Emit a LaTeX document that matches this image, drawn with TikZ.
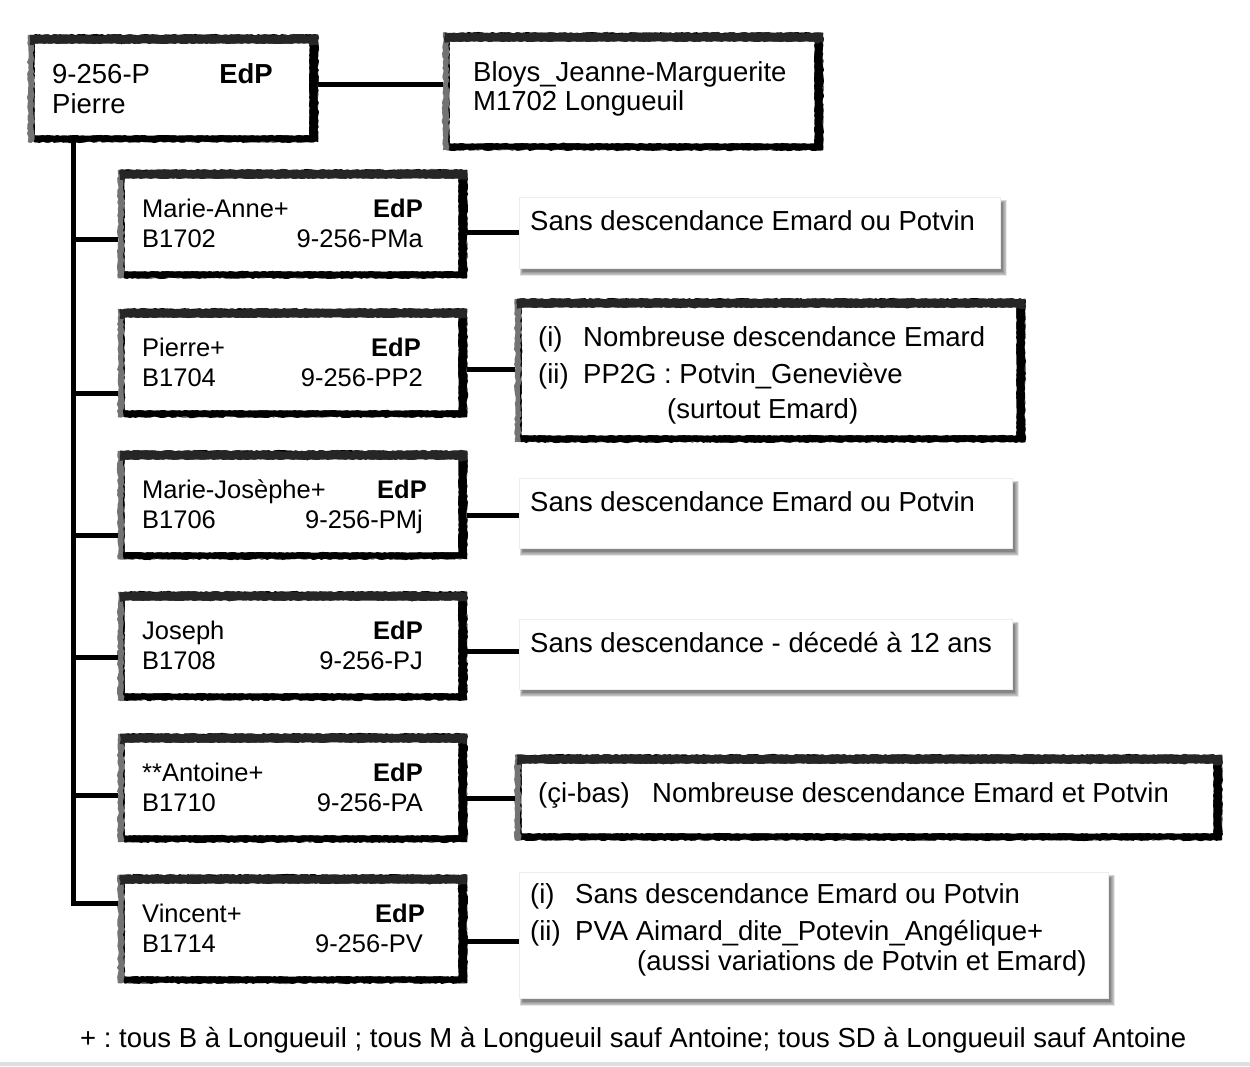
\documentclass[tikz,border=0pt]{standalone}
\usepackage{fontspec}
\setmainfont{Liberation Sans}
\usetikzlibrary{calc,fit,decorations.pathmorphing}
\definecolor{bandgray}{HTML}{DCE0E4}
\frenchspacing
\tikzset{
  x=1pt, y=-1pt,
  txt/.style={inner sep=0pt, anchor=base west, font=\fontsize{27.5}{33}\selectfont},
  txtr/.style={txt, anchor=base east},
  ctxt/.style={inner sep=0pt, anchor=base west, font=\fontsize{25.5}{30}\selectfont},
  ctxtr/.style={ctxt, anchor=base east},
  conn/.style={line width=5pt, black, line join=miter},
  rough/.style={decorate, decoration={random steps, segment length=3pt, amplitude=0.9pt}},
  fine/.style={decorate, decoration={random steps, segment length=2.5pt, amplitude=0.5pt}},
}
% sketch framed box: name, x1, y1, x2, y2
\newcommand\SkBox[5]{%
  \coordinate (#1-a) at (#2,#3);
  \coordinate (#1-z) at (#4,#5);
  \node[fit=(#1-a)(#1-z), inner sep=0pt, draw=none] (#1) {};
  \fill[black!55, rough] (#1.north west) rectangle (#1.south east);
  \fill[black, rough] ($(#1.north west)+(6,0)$) rectangle (#1.south east);
  \fill[black!85, rough] ($(#1.north west)+(2,0)$) rectangle ($(#1.north east)+(0,10)$);
  \fill[white, fine] ($(#1.north west)+(7,9)$) rectangle ($(#1.south east)+(-9,-7)$);
}
% shadowed plain box: name, x1, y1, x2, y2
\newcommand\ShBox[5]{%
  \coordinate (#1-a) at (#2,#3);
  \coordinate (#1-z) at (#4,#5);
  \node[fit=(#1-a)(#1-z), inner sep=0pt, draw=none] (#1) {};
  \foreach \k in {0,...,6}{%
    \fill[black, opacity=0.085] ($(#1.north west)+(1+0.5*\k,3+0.5*\k)$) rectangle ($(#1.south east)+(7-0.75*\k,8-0.75*\k)$);
  }
  \fill[white] (#1.north west) rectangle (#1.south east);
  \draw[black!7, line width=0.6pt] (#1.north west) rectangle (#1.south east);
}
% child box: name, top, person, birth, code, EdP right edge
\newcommand\Child[6]{%
  \SkBox{#1}{118}{#2}{467}{#2+108}
  \node[ctxt] (#1-n) at (142,#2+47) {#3};
  \node[ctxtr] (#1-e) at (#6,#2+47) {\bfseries EdP};
  \node[ctxt] (#1-bt) at (142,#2+77) {#4};
  \node[ctxtr] (#1-c) at (423,#2+77) {#5};
}
\begin{document}
\begin{tikzpicture}
\useasboundingbox (0,0) rectangle (1250,1066);
\fill[white] (0,0) rectangle (1250,1066);
\fill[bandgray] (0,1062) rectangle (1250,1066);

% top row
\SkBox{main}{28}{35}{318}{142}
\node[txt] (main-id) at (52,83) {9-256-P};
\node[txtr] (main-e) at (273,83) {\bfseries EdP};
\node[txt] (main-n) at (52,113) {Pierre};

\SkBox{bloys}{443}{33}{823}{150}
\node[txt] (bloys-n) at (473,81) {Bloys\_Jeanne-Marguerite};
\node[txt] (bloys-m) at (473,110) {M1702 Longueuil};

% children
\Child{ma}{170}{Marie-Anne+}{B1702}{9-256-PMa}{423}
\Child{pp}{309}{Pierre+}{B1704}{9-256-PP2}{421}
\Child{mj}{451}{Marie-Josèphe+}{B1706}{9-256-PMj}{427}
\Child{pj}{592}{Joseph}{B1708}{9-256-PJ}{423}
\Child{pa}{734}{**Antoine+}{B1710}{9-256-PA}{423}
\Child{pv}{875}{Vincent+}{B1714}{9-256-PV}{425}

% right boxes
\ShBox{r1}{519}{197}{1000}{268}
\node[txt] (r1-t) at (530,230) {Sans descendance Emard ou Potvin};

\SkBox{r2}{515}{299}{1025}{442}
\node[txt] (r2-i) at (538,346) {(i)};
\node[txt] (r2-a) at (583,346) {Nombreuse descendance Emard};
\node[txt] (r2-ii) at (538,383) {(ii)};
\node[txt] (r2-b) at (583,383) {PP2G : Potvin\_Geneviève};
\node[txt] (r2-c) at (667,418) {(surtout Emard)};

\ShBox{r3}{519}{478}{1012}{548}
\node[txt] (r3-t) at (530,511) {Sans descendance Emard ou Potvin};

\ShBox{r4}{519}{619}{1012}{689}
\node[txt] (r4-t) at (530,652) {Sans descendance - décedé à 12 ans};

\SkBox{r5}{515}{755}{1222}{840}
\node[txt] (r5-i) at (538,802) {(çi-bas)};
\node[txt] (r5-a) at (652,802) {Nombreuse descendance Emard et Potvin};

\ShBox{r6}{519}{872}{1108}{998}
\node[txt] (r6-i) at (530,903) {(i)};
\node[txt] (r6-a) at (575,903) {Sans descendance Emard ou Potvin};
\node[txt] (r6-ii) at (530,940) {(ii)};
\node[txt] (r6-b) at (575,940) {PVA Aimard\_dite\_Potevin\_Angélique+};
\node[txt] (r6-c) at (637,970) {(aussi variations de Potvin et Emard)};

% footer
\node[txt] (foot) at (80,1047) {+ : tous B à Longueuil ; tous M à Longueuil sauf Antoine; tous SD à Longueuil sauf Antoine};

% connectors
\coordinate (tx) at (73,0);
\coordinate (main-r) at ($(main.north east)+(0,50)$);
\draw[conn] (main-r) -- (main-r -| bloys.west);

\coordinate (pv-l) at ($(pv.north west)+(0,29)$);
\draw[conn] (tx |- main.south) -- (tx |- pv-l) -- (pv-l);

\coordinate (ma-l) at ($(ma.north west)+(0,70)$);
\coordinate (pp-l) at ($(pp.north west)+(0,85)$);
\coordinate (mj-l) at ($(mj.north west)+(0,85)$);
\coordinate (pj-l) at ($(pj.north west)+(0,66)$);
\coordinate (pa-l) at ($(pa.north west)+(0,62)$);
\draw[conn] (tx |- ma-l) -- (ma-l);
\draw[conn] (tx |- pp-l) -- (pp-l);
\draw[conn] (tx |- mj-l) -- (mj-l);
\draw[conn] (tx |- pj-l) -- (pj-l);
\draw[conn] (tx |- pa-l) -- (pa-l);

\coordinate (ma-r) at ($(ma.north east)+(0,63)$);
\coordinate (pp-r) at ($(pp.north east)+(0,61)$);
\coordinate (mj-r) at ($(mj.north east)+(0,65)$);
\coordinate (pj-r) at ($(pj.north east)+(0,60)$);
\coordinate (pa-r) at ($(pa.north east)+(0,65)$);
\coordinate (pv-r) at ($(pv.north east)+(0,67)$);
\draw[conn] (ma-r) -- (ma-r -| r1.west);
\draw[conn] (pp-r) -- (pp-r -| r2.west);
\draw[conn] (mj-r) -- (mj-r -| r3.west);
\draw[conn] (pj-r) -- (pj-r -| r4.west);
\draw[conn] (pa-r) -- (pa-r -| r5.west);
\draw[conn] (pv-r) -- (pv-r -| r6.west);
\end{tikzpicture}
\end{document}
